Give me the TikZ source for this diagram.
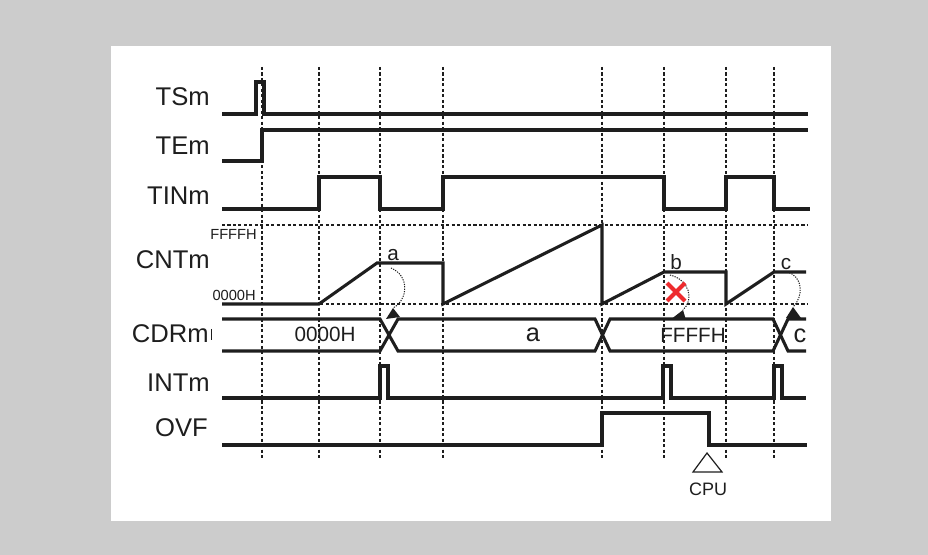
\documentclass[tikz,border=0pt]{standalone}
\usepackage{fontspec}
\setmainfont{Liberation Sans}
\definecolor{bggray}{HTML}{CCCCCC}
\definecolor{ink}{HTML}{1E1E1E}
\definecolor{xred}{HTML}{EE2B2E}
\begin{document}
\begin{tikzpicture}[x=0.75pt,y=-0.75pt,
  sig/.style={draw=ink,line width=2.3pt,line join=miter},
  guide/.style={draw=ink,line width=1.1pt,dash pattern=on 2.3pt off 1.8pt},
  arc/.style={draw=ink,line width=0.75pt,dash pattern=on 0.9pt off 0.9pt},
  head/.style={fill=ink,draw=none},
  lbl/.style={anchor=east,inner sep=0pt,text=ink,font=\fontsize{19.2}{19.2}\selectfont},
  small/.style={anchor=east,inner sep=0pt,text=ink,font=\fontsize{11}{11}\selectfont},
  val/.style={inner sep=0pt,text=ink,font=\fontsize{15.5}{15.5}\selectfont},
  bigval/.style={inner sep=0pt,text=ink,font=\fontsize{19}{19}\selectfont},
  cntlbl/.style={anchor=base,inner sep=0pt,text=ink,font=\fontsize{15.5}{15.5}\selectfont}]
\useasboundingbox (0,0) rectangle (928,555);
\fill[bggray] (0,0) rectangle (928,555);
\fill[white] (111,46) rectangle (831,521);

% vertical guides
\foreach \x in {262,319,380,443,602,664,726,774}
  \draw[guide] (\x,67) -- (\x,458);
% level guides
\draw[guide] (222,225) -- (807,225);
\draw[guide] (222,304) -- (807,304);

% labels
\node[lbl] (tsm) at (210,97) {TSm};
\node[lbl] (tem) at (210,146) {TEm};
\node[lbl] (tin) at (210,196) {TINm};
\node[lbl] (cnt) at (210,260) {CNTm};
\node[lbl] (cdr) at (209,334) {CDRm};
\node[lbl] (intm) at (210,383) {INTm};
\node[lbl] (ovf) at (208,428) {OVF};
\draw[ink,line width=0.6pt] (cdr.east) ++(2.5,-5) -- ++(0,11);
\node[small] (ffff) at (257,234) {FFFFH};
\node[small] (zero) at (256,295) {0000H};

% TSm
\draw[sig] (222,114) -- (256,114) -- (256,82) -- (264,82) -- (264,114) -- (808,114);
% TEm
\draw[sig] (222,161) -- (262,161) -- (262,130) -- (808,130);
% TINm
\draw[sig] (222,209) -- (319,209) -- (319,177) -- (380,177) -- (380,209) -- (443,209)
  -- (443,177) -- (664,177) -- (664,209) -- (726,209) -- (726,177) -- (774,177)
  -- (774,209) -- (810,209);
% CNTm
\draw[sig] (222,304) -- (319,304) -- (377,263) -- (443,263) -- (443,304) -- (602,225)
  -- (602,304) -- (664,272) -- (726,272) -- (726,304) -- (774,272) -- (806,272);
% CDRm
\draw[sig] (222,319) -- (380,319) -- (398,351) -- (595,351) -- (610,319) -- (773,319)
  -- (788,351) -- (806,351);
\draw[sig] (222,351) -- (380,351) -- (398,319) -- (595,319) -- (610,351) -- (773,351)
  -- (788,319) -- (806,319);
% INTm
\draw[sig] (222,398) -- (380,398) -- (380,366) -- (388,366) -- (388,398) -- (663,398)
  -- (663,366) -- (671,366) -- (671,398) -- (774,398) -- (774,366) -- (782,366)
  -- (782,398) -- (806,398);
% OVF
\draw[sig] (222,445) -- (602,445) -- (602,413) -- (709,413) -- (709,445) -- (807,445);

% CNT markers
\node[cntlbl] (ma) at (393,261) {a};
\node[cntlbl] (mb) at (676,270) {b};
\node[cntlbl] (mc) at (786,270) {c};

% CDR values
\node[val] (v0) at (325,334) {0000H};
\node[bigval] (va) at (533,335) {a};
\node[val] (vf) at (693,335) {FFFFH};
\node[bigval] (vc) at (800,336) {c};

% capture arcs
\coordinate (ta) at (393,308);
\coordinate (tb) at (683,310);
\coordinate (tc) at (793,307);
\draw[arc] (391,268) .. controls (410,276) and (408,300) .. (ta);
\fill[head] (ta) -- (386,319) -- (400,317) -- cycle;
\draw[arc] (670,275) .. controls (690,280) and (694,300) .. (tb);
\fill[head] (tb) -- (670,320) -- (686,320) -- cycle;
\draw[arc] (787,272) .. controls (803,276) and (804,296) .. (tc);
\fill[head] (tc) -- (786,318) -- (801,318) -- cycle;

% red cross
\draw[xred,line width=3pt] (667,283) -- (685,301) (685,283) -- (667,301);

% CPU
\draw[ink,line width=0.9pt,line join=miter] (707,453) -- (693,472) -- (722,472) -- cycle;
\node[inner sep=0pt,text=ink,font=\fontsize{13.5}{13.5}\selectfont] (cpu) at (708,489) {CPU};
\end{tikzpicture}
\end{document}
